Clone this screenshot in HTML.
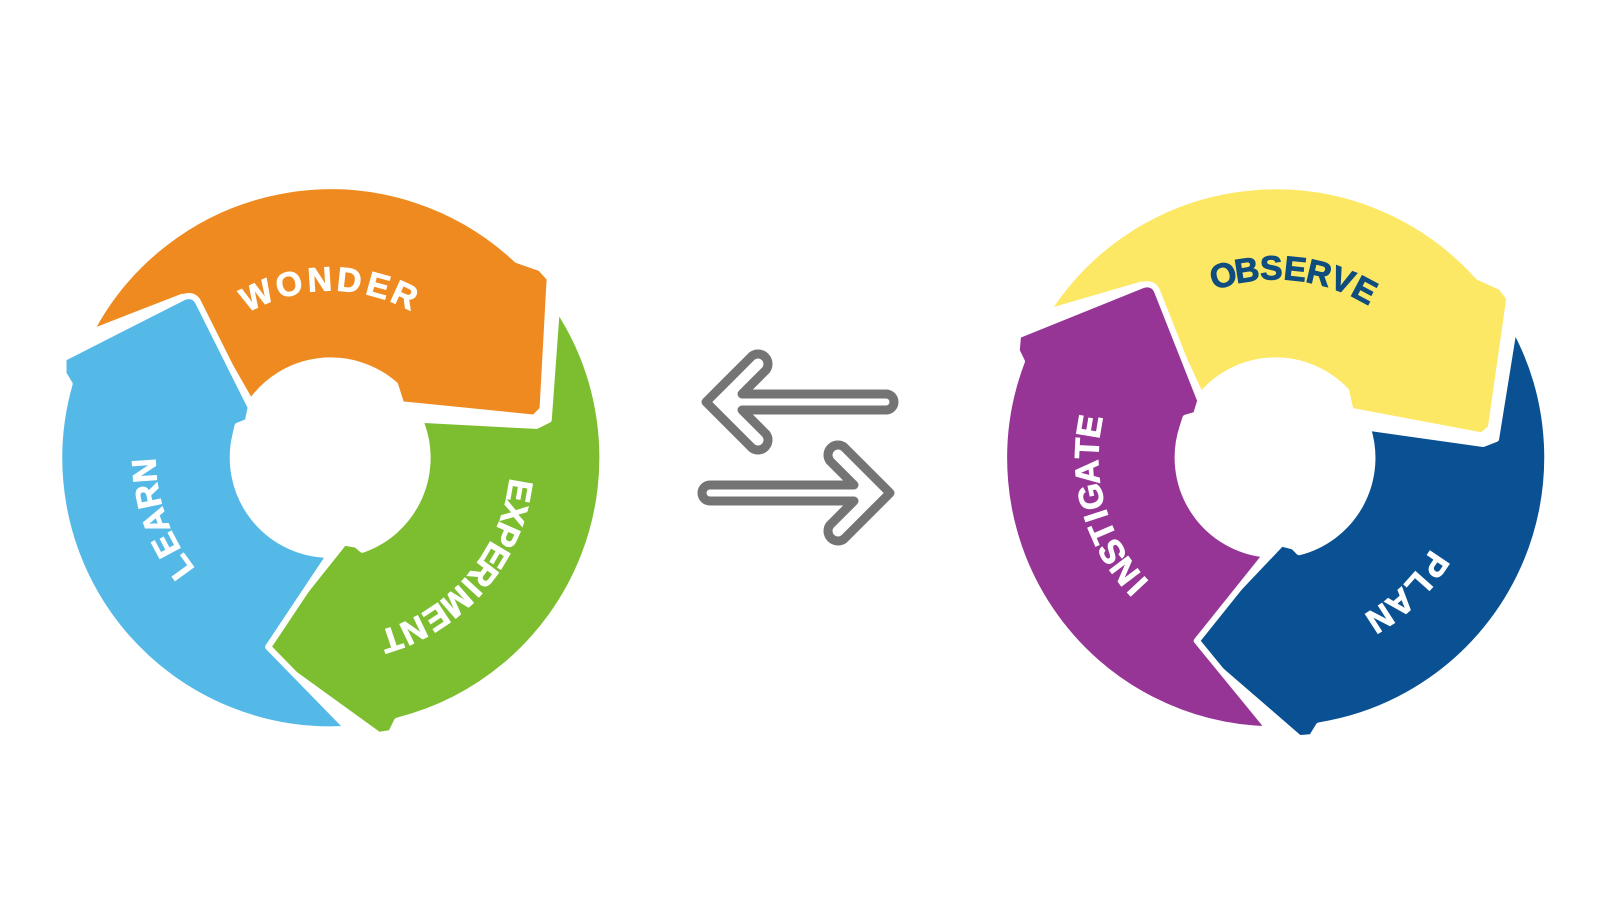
<!DOCTYPE html>
<html><head><meta charset="utf-8"><style>
html,body{margin:0;padding:0;background:#fff;}
svg{display:block;}
text{font-family:"Liberation Sans",Arial,sans-serif;font-weight:bold;font-size:33px;text-anchor:middle;stroke-width:0.9px;}
.L .a{fill:#EE8A1F}.L .b{fill:#55B9E8}.L .c{fill:#7DBE31}
.R .a{fill:#FCE865}.R .b{fill:#963596}.R .c{fill:#0A5193}
</style></head><body>
<svg width="1597" height="900" viewBox="0 0 1597 900" xmlns="http://www.w3.org/2000/svg">
<g transform="scale(1.0237)">
  <g class="L" stroke="#fff" stroke-width="6" stroke-linejoin="round">
    <path class="a" d="M88,325 A265,265 0 0 1 505,254 L528,262 L537,272 L530,400 L522,408 L392,395 L386,376 A95,95 0 0 0 245,393 L190,297 L178,290 Z"/>
    <path class="c" d="M544,300 A265,265 0 0 1 388,704 L382,716 L370,718 L262,640 L258,628 L336,530 L348,532 L354,537 A95,95 0 0 0 410,410 L524,416 L536,410 Z"/>
    <path class="b" d="M62,350 L180,290 Q190,287 194,296 L245,398 L242,412 L232,416 L230,425 A95,95 0 0 0 322,542 L262,632 L340,712 A265,265 0 0 1 68,375 L62,365 Z"/>
  </g>
  <g class="R" stroke="#fff" stroke-width="6" stroke-linejoin="round" transform="translate(923,0) rotate(5 323 447)">
    <path class="a" d="M88,325 A265,265 0 0 1 505,254 L528,262 L537,272 L530,400 L522,408 L392,395 L386,376 A95,95 0 0 0 245,393 L190,297 L178,290 Z"/>
    <path class="c" d="M544,300 A265,265 0 0 1 388,704 L382,716 L370,718 L262,640 L258,628 L336,530 L348,532 L354,537 A95,95 0 0 0 410,410 L524,416 L536,410 Z"/>
    <path class="b" d="M62,350 L180,290 Q190,287 194,296 L245,398 L242,412 L232,416 L230,425 A95,95 0 0 0 322,542 L262,632 L340,712 A265,265 0 0 1 68,375 L62,365 Z"/>
  </g>
  <g fill="#fff" stroke="#fff">
    <text x="323" y="284" transform="rotate(-24.5 323 447)">W</text>
    <text x="323" y="284" transform="rotate(-13.5 323 447)">O</text>
    <text x="323" y="284" transform="rotate(-3.5 323 447)">N</text>
    <text x="323" y="284" transform="rotate(6 323 447)">D</text>
    <text x="323" y="284" transform="rotate(15.5 323 447)">E</text>
    <text x="323" y="284" transform="rotate(24.5 323 447)">R</text>

    <text x="323" y="276" transform="rotate(234 323 447)">L</text>
    <text x="323" y="276" transform="rotate(242 323 447)">E</text>
    <text x="323" y="276" transform="rotate(250 323 447)">A</text>
    <text x="323" y="276" transform="rotate(258 323 447)">R</text>
    <text x="323" y="276" transform="rotate(266 323 447)">N</text>

    <text x="323" y="271" transform="rotate(100 323 447)">E</text>
    <text x="323" y="271" transform="rotate(106.9 323 447)">X</text>
    <text x="323" y="271" transform="rotate(113.8 323 447)">P</text>
    <text x="323" y="271" transform="rotate(120.7 323 447)">E</text>
    <text x="323" y="271" transform="rotate(127.2 323 447)">R</text>
    <text x="323" y="271" transform="rotate(132.6 323 447)">I</text>
    <text x="323" y="271" transform="rotate(138.8 323 447)">M</text>
    <text x="323" y="271" transform="rotate(146.5 323 447)">E</text>
    <text x="323" y="271" transform="rotate(154.3 323 447)">N</text>
    <text x="323" y="271" transform="rotate(161.5 323 447)">T</text>

    <text x="1246" y="274" transform="rotate(227 1246 447)">I</text>
    <text x="1246" y="274" transform="rotate(233 1246 447)">N</text>
    <text x="1246" y="274" transform="rotate(240 1246 447)">S</text>
    <text x="1246" y="274" transform="rotate(246.6 1246 447)">T</text>
    <text x="1246" y="274" transform="rotate(252 1246 447)">I</text>
    <text x="1246" y="274" transform="rotate(258 1246 447)">G</text>
    <text x="1246" y="274" transform="rotate(265.5 1246 447)">A</text>
    <text x="1246" y="274" transform="rotate(272.8 1246 447)">T</text>
    <text x="1246" y="274" transform="rotate(279.5 1246 447)">E</text>

    <text x="1246" y="271" transform="rotate(124 1246 447)">P</text>
    <text x="1246" y="271" transform="rotate(131.7 1246 447)">L</text>
    <text x="1246" y="271" transform="rotate(139.3 1246 447)">A</text>
    <text x="1246" y="271" transform="rotate(147 1246 447)">N</text>
  </g>
  <g fill="#0E4D7E" stroke="#0E4D7E">
    <text x="1246" y="273" transform="rotate(-16 1246 447)">O</text>
    <text x="1246" y="273" transform="rotate(-8.7 1246 447)">B</text>
    <text x="1246" y="273" transform="rotate(-1.3 1246 447)">S</text>
    <text x="1246" y="273" transform="rotate(6 1246 447)">E</text>
    <text x="1246" y="273" transform="rotate(13.3 1246 447)">R</text>
    <text x="1246" y="273" transform="rotate(20.7 1246 447)">V</text>
    <text x="1246" y="273" transform="rotate(28 1246 447)">E</text>
  </g>
</g>
<g fill="none" stroke="#747474" stroke-width="9" stroke-linejoin="round">
  <path d="M706,402 L752,356 A10,10 0 0 1 766,370 L742,394 L886,394 A8,8 0 0 1 886,410 L742,410 L766,434 A10,10 0 0 1 752,448 Z"/>
  <path transform="translate(1596,91) scale(-1,1)" d="M706,402 L752,356 A10,10 0 0 1 766,370 L742,394 L886,394 A8,8 0 0 1 886,410 L742,410 L766,434 A10,10 0 0 1 752,448 Z"/>
</g>
</svg>
</body></html>
